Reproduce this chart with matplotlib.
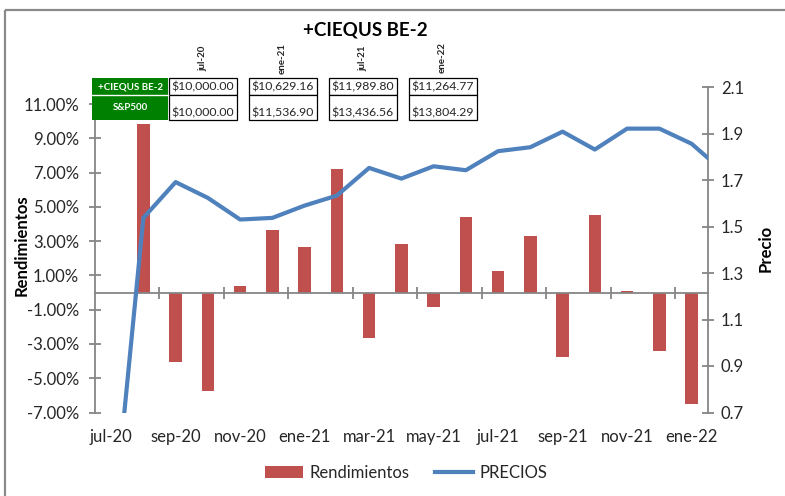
import numpy as np
import matplotlib
matplotlib.use('Agg')
import matplotlib.pyplot as plt
from matplotlib.patches import Rectangle, Patch
from matplotlib.lines import Line2D

# ---------------------------------------------------------
# Data
# ---------------------------------------------------------

months = ['jul-20', 'ago-20', 'sep-20', 'oct-20', 'nov-20', 'dic-20',
          'ene-21', 'feb-21', 'mar-21', 'abr-21', 'may-21', 'jun-21',
          'jul-21', 'ago-21', 'sep-21', 'oct-21', 'nov-21', 'dic-21',
          'ene-22', 'feb-22']

# Monthly returns in % (no bar for jul-20)
rendimientos = [np.nan, 9.86, -4.06, -5.72, 0.41, 3.68, 2.65, 7.21, -2.64,
                2.85, -0.85, 4.44, 1.27, 3.29, -3.77, 4.50, 0.12, -3.42,
                -6.53]

# Prices (the line runs one point past the last bar and is clipped)
precios = [0.12, 1.537, 1.691, 1.623, 1.530, 1.537, 1.590, 1.633, 1.752,
           1.706, 1.759, 1.742, 1.824, 1.841, 1.908, 1.831, 1.921, 1.921,
           1.856, 1.735]

# Summary table on top of the chart
tabla_fechas = ['jul-20', 'ene-21', 'jul-21', 'ene-22']
tabla_series = ['+CIEQUS BE-2', 'S&P500']
tabla_ciequs = [10000.00, 10629.16, 11989.80, 11264.77]
tabla_sp500 = [10000.00, 11536.90, 13436.56, 13804.29]

titulo = '+CIEQUS BE-2'

# ---------------------------------------------------------
# Style
# ---------------------------------------------------------

plt.rcParams['font.family'] = ['Lato', 'DejaVu Sans']

RED = '#C0504D'
BLUE = '#4F81BD'
GRAY = '#868686'
TXT = '#262626'
GREEN = '#008000'

W, H = 785, 496
fig = plt.figure(figsize=(W / 100, H / 100), dpi=100)

left, right, top, bottom = 95, 707.7, 87, 412.5
ax = fig.add_axes([left / W, 1 - bottom / H, (right - left) / W, (bottom - top) / H])

# Bars
n_cat = len(rendimientos)
x = np.arange(n_cat)
ax.bar(x, rendimientos, width=0.39, color=RED, zorder=2)

ax.set_xlim(-0.5, n_cat - 0.5)
ax.set_ylim(-7, 12)
ax.set_yticks(np.arange(-7, 12, 2))
ax.set_yticklabels(['%.2f%%' % v for v in np.arange(-7, 12, 2)])

for s in ['top', 'right']:
    ax.spines[s].set_visible(False)
ax.spines['left'].set_color(GRAY)
ax.spines['left'].set_linewidth(1.3)
ax.spines['bottom'].set_position(('data', 0))
ax.spines['bottom'].set_color(GRAY)
ax.spines['bottom'].set_linewidth(1.3)

ax.set_xticks(np.arange(1.5, n_cat - 1, 2))
ax.tick_params(axis='x', direction='inout', length=8, width=1.3,
               color=GRAY, labelbottom=False)
ax.tick_params(axis='y', direction='inout', length=9, width=1.3,
               color=GRAY, labelcolor=TXT, labelsize=12, pad=7)

# Category labels at the bottom
sec = ax.secondary_xaxis('bottom')
sec.set_xticks(x[::2])
sec.set_xticklabels(months[:n_cat:2])
sec.spines['bottom'].set_visible(False)
sec.tick_params(length=0, labelsize=12, labelcolor=TXT, pad=12)

# Price line on the secondary y axis
ax2 = ax.twinx()
ax2.plot(np.arange(len(precios)), precios, color=BLUE, lw=3, zorder=3,
         solid_capstyle='butt')
ax2.set_ylim(0.7, 2.1)
ax2.set_yticks(np.arange(0.7, 2.11, 0.2))
ax2.set_yticklabels(['%.1f' % v for v in np.arange(0.7, 2.11, 0.2)])
for s in ['top', 'left', 'bottom']:
    ax2.spines[s].set_visible(False)
ax2.spines['right'].set_color(GRAY)
ax2.spines['right'].set_linewidth(1.3)
ax2.tick_params(axis='y', direction='inout', length=9, width=1.3,
                color=GRAY, labelcolor=TXT, labelsize=12, pad=5)
ax2.set_xlim(-0.5, n_cat - 0.5)

# Axis titles
fig.text(22 / W, 1 - 245 / H, 'Rendimientos', rotation=90, ha='center',
         va='center', fontsize=12, fontweight='bold', color='black')
fig.text(766 / W, 1 - 248 / H, 'Precio', rotation=90, ha='center',
         va='center', fontsize=12, fontweight='bold', color='black')

# Title
fig.text(365 / W, 1 - 30 / H, titulo, ha='center', va='center',
         fontsize=13.5, fontweight='bold', color='black')

# Legend
handles = [Patch(facecolor=RED, edgecolor='none'),
           Line2D([], [], color=BLUE, lw=3)]
fig.legend(handles, ['Rendimientos', 'PRECIOS'], loc='center',
           bbox_to_anchor=(406 / W, 1 - 473 / H), ncol=2, frameon=False,
           fontsize=12, handlelength=2.3, handleheight=0.7, handletextpad=0.4,
           columnspacing=1.5, labelcolor=TXT)

# ---------------------------------------------------------
# Overlay in pixel units: frame and summary table
# ---------------------------------------------------------

ov = fig.add_axes([0, 0, 1, 1], zorder=10)
ov.set_xlim(0, W)
ov.set_ylim(H, 0)
ov.axis('off')
ov.patch.set_alpha(0)

ov.add_patch(Rectangle((5, 10), W, H, fill=False, edgecolor='#8a8a8a', lw=1.6))

row1, row2, row3 = 78, 95, 120
hx0, hx1 = 92, 168
ov.add_patch(Rectangle((hx0, row1), hx1 - hx0, row3 - row1, facecolor=GREEN,
                       edgecolor='none'))
ov.plot([hx0, hx1], [row2, row2], color='white', lw=1)
ov.text((hx0 + hx1) / 2, (row1 + row2) / 2 + 0.5, tabla_series[0],
        ha='center', va='center', color='white', fontsize=7, fontweight='bold')
ov.text((hx0 + hx1) / 2, 107, tabla_series[1], ha='center', va='center',
        color='white', fontsize=7, fontweight='bold')

col_w, col_step, col0 = 68, 80, 168.5
for i, fecha in enumerate(tabla_fechas):
    cx0 = col0 + i * col_step
    cx = cx0 + col_w / 2
    ov.add_patch(Rectangle((cx0, row1), col_w, row2 - row1, facecolor='white',
                           edgecolor='black', lw=0.9))
    ov.add_patch(Rectangle((cx0, row2), col_w, row3 - row2, facecolor='white',
                           edgecolor='black', lw=0.9))
    ov.text(cx, (row1 + row2) / 2 + 0.5, '${:,.2f}'.format(tabla_ciequs[i]),
            ha='center', va='center', fontsize=8.8, color=TXT)
    ov.text(cx, 113, '${:,.2f}'.format(tabla_sp500[i]),
            ha='center', va='center', fontsize=8.8, color=TXT)
    ov.text(cx, 58, fecha, rotation=90, ha='center', va='center',
            fontsize=7, fontweight='bold', color=TXT)

fig.savefig('out.png', dpi=100)
